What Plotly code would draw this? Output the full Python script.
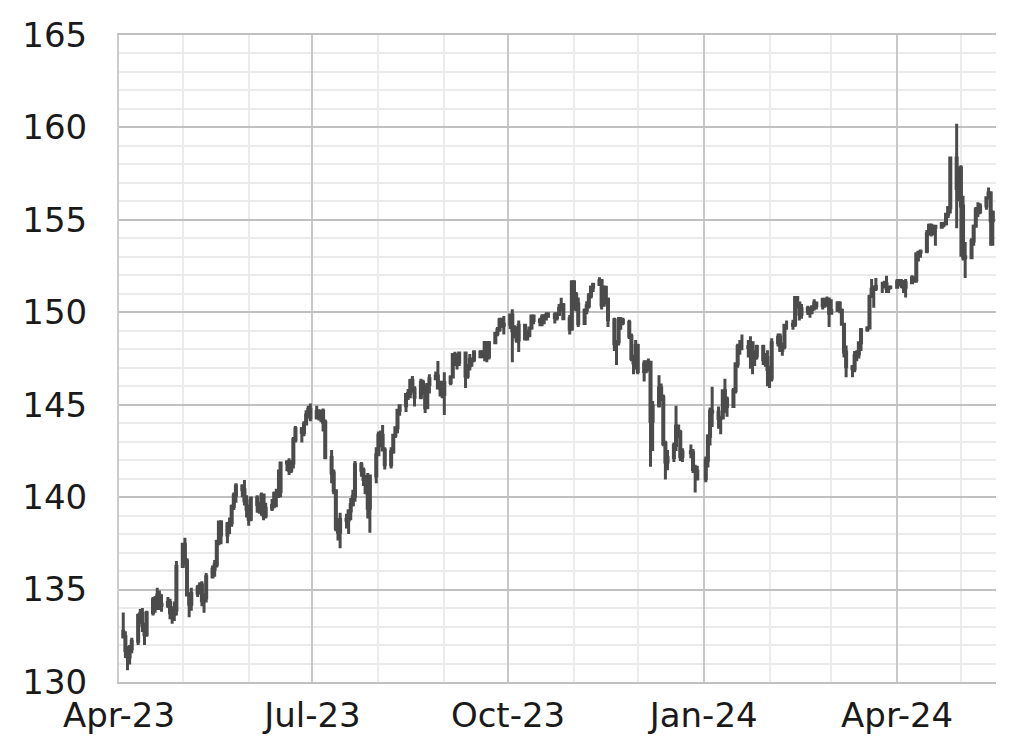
import plotly.graph_objects as go

dates = [
    "2023-04-03","2023-04-04","2023-04-05","2023-04-06","2023-04-07","2023-04-10","2023-04-11","2023-04-12","2023-04-13","2023-04-14","2023-04-17","2023-04-18","2023-04-19","2023-04-20","2023-04-21","2023-04-24","2023-04-25","2023-04-26","2023-04-27","2023-04-28",
    "2023-05-01","2023-05-02","2023-05-03","2023-05-04","2023-05-05","2023-05-08","2023-05-09","2023-05-10","2023-05-11","2023-05-12","2023-05-15","2023-05-16","2023-05-17","2023-05-18","2023-05-19","2023-05-22","2023-05-23","2023-05-24","2023-05-25","2023-05-26","2023-05-29","2023-05-30","2023-05-31",
    "2023-06-01","2023-06-02","2023-06-05","2023-06-06","2023-06-07","2023-06-08","2023-06-09","2023-06-12","2023-06-13","2023-06-14","2023-06-15","2023-06-16","2023-06-19","2023-06-20","2023-06-21","2023-06-22","2023-06-23","2023-06-26","2023-06-27","2023-06-28","2023-06-29","2023-06-30",
    "2023-07-03","2023-07-04","2023-07-05","2023-07-06","2023-07-07","2023-07-10","2023-07-11","2023-07-12","2023-07-13","2023-07-14","2023-07-17","2023-07-18","2023-07-19","2023-07-20","2023-07-21","2023-07-24","2023-07-25","2023-07-26","2023-07-27","2023-07-28","2023-07-31",
    "2023-08-01","2023-08-02","2023-08-03","2023-08-04","2023-08-07","2023-08-08","2023-08-09","2023-08-10","2023-08-11","2023-08-14","2023-08-15","2023-08-16","2023-08-17","2023-08-18","2023-08-21","2023-08-22","2023-08-23","2023-08-24","2023-08-25","2023-08-28","2023-08-29","2023-08-30","2023-08-31",
    "2023-09-01","2023-09-04","2023-09-05","2023-09-06","2023-09-07","2023-09-08","2023-09-11","2023-09-12","2023-09-13","2023-09-14","2023-09-15","2023-09-18","2023-09-19","2023-09-20","2023-09-21","2023-09-22","2023-09-25","2023-09-26","2023-09-27","2023-09-28","2023-09-29",
    "2023-10-02","2023-10-03","2023-10-04","2023-10-05","2023-10-06","2023-10-09","2023-10-10","2023-10-11","2023-10-12","2023-10-13","2023-10-16","2023-10-17","2023-10-18","2023-10-19","2023-10-20","2023-10-23","2023-10-24","2023-10-25","2023-10-26","2023-10-27","2023-10-30","2023-10-31",
    "2023-11-01","2023-11-02","2023-11-03","2023-11-06","2023-11-07","2023-11-08","2023-11-09","2023-11-10","2023-11-13","2023-11-14","2023-11-15","2023-11-16","2023-11-17","2023-11-20","2023-11-21","2023-11-22","2023-11-23","2023-11-24","2023-11-27","2023-11-28","2023-11-29","2023-11-30",
    "2023-12-01","2023-12-04","2023-12-05","2023-12-06","2023-12-07","2023-12-08","2023-12-11","2023-12-12","2023-12-13","2023-12-14","2023-12-15","2023-12-18","2023-12-19","2023-12-20","2023-12-21","2023-12-22","2023-12-26","2023-12-27","2023-12-28","2023-12-29",
    "2024-01-02","2024-01-03","2024-01-04","2024-01-05","2024-01-08","2024-01-09","2024-01-10","2024-01-11","2024-01-12","2024-01-15","2024-01-16","2024-01-17","2024-01-18","2024-01-19","2024-01-22","2024-01-23","2024-01-24","2024-01-25","2024-01-26","2024-01-29","2024-01-30","2024-01-31",
    "2024-02-01","2024-02-02","2024-02-05","2024-02-06","2024-02-07","2024-02-08","2024-02-09","2024-02-12","2024-02-13","2024-02-14","2024-02-15","2024-02-16","2024-02-19","2024-02-20","2024-02-21","2024-02-22","2024-02-23","2024-02-26","2024-02-27","2024-02-28","2024-02-29",
    "2024-03-01","2024-03-04","2024-03-05","2024-03-06","2024-03-07","2024-03-08","2024-03-11","2024-03-12","2024-03-13","2024-03-14","2024-03-15","2024-03-18","2024-03-19","2024-03-20","2024-03-21","2024-03-22","2024-03-25","2024-03-26","2024-03-27","2024-03-28","2024-03-29",
    "2024-04-01","2024-04-02","2024-04-03","2024-04-04","2024-04-05","2024-04-08","2024-04-09","2024-04-10","2024-04-11","2024-04-12","2024-04-15","2024-04-16","2024-04-17","2024-04-18","2024-04-19","2024-04-22","2024-04-23","2024-04-24","2024-04-25","2024-04-26","2024-04-29","2024-04-30",
    "2024-05-01","2024-05-02","2024-05-03","2024-05-06","2024-05-07","2024-05-08","2024-05-09","2024-05-10","2024-05-13","2024-05-14","2024-05-15","2024-05-16",
]

opens = [
    132.75,132.45,131.70,131.35,131.80,132.20,133.60,133.70,133.05,132.55,133.75,134.45,134.10,134.70,134.20,134.15,134.30,133.75,133.65,133.90,
    136.25,137.45,136.55,134.70,134.20,134.80,135.10,135.25,134.40,134.55,135.70,136.10,136.35,137.60,138.65,137.95,138.55,138.60,139.50,140.10,140.60,140.40,139.80,
    139.35,138.80,139.95,139.60,139.60,140.10,139.00,139.40,139.55,140.20,140.05,140.30,141.85,141.90,141.45,141.85,143.10,143.70,143.50,143.95,144.45,144.75,
    144.30,144.65,144.45,144.65,144.05,142.15,141.30,140.35,138.30,138.10,138.80,138.75,139.25,139.60,140.05,141.75,141.45,140.95,140.25,139.40,141.15,
    142.30,143.35,143.35,142.55,141.75,142.45,143.35,143.75,144.70,144.95,145.55,145.60,146.30,145.85,145.40,146.20,145.90,144.85,146.10,146.40,146.55,145.90,146.20,
    145.55,146.20,146.50,147.70,147.70,147.30,147.80,146.55,147.10,147.45,147.45,147.85,147.60,147.85,148.35,147.60,148.35,148.85,149.05,149.60,149.30,
    149.35,149.85,149.00,149.05,148.50,149.30,148.55,148.75,149.15,149.80,149.55,149.50,149.75,149.80,149.85,149.85,149.70,149.90,150.20,150.40,149.65,149.10,
    151.65,150.95,150.45,149.40,150.10,150.35,150.90,151.35,151.50,151.70,150.40,151.35,150.70,149.60,148.30,148.40,149.55,149.55,149.45,148.70,147.50,147.25,
    148.20,146.80,147.20,147.15,147.30,144.10,144.95,145.90,145.40,142.90,141.90,142.15,142.80,143.85,143.50,142.20,142.45,142.40,141.50,141.40,
    141.00,142.00,143.30,144.65,144.60,144.25,144.30,145.75,145.30,144.90,145.75,147.20,148.15,148.15,148.15,148.10,148.35,147.50,147.65,148.15,147.45,147.55,
    146.90,146.45,148.35,148.65,147.95,148.15,149.30,149.30,149.35,150.80,150.50,149.90,150.20,150.05,150.15,150.30,150.50,150.35,150.70,150.50,150.65,
    149.95,150.10,150.50,150.10,149.35,147.85,147.05,146.95,147.65,147.75,148.35,149.05,149.15,150.85,151.25,151.30,151.40,151.40,151.55,151.30,151.35,
    151.35,151.65,151.55,151.65,151.35,151.60,151.85,151.75,153.15,153.25,153.30,154.25,154.70,154.35,154.65,154.60,154.80,154.80,155.30,155.65,158.35,156.70,
    157.80,155.75,153.00,152.95,153.85,154.65,155.55,155.45,155.75,156.20,156.45,154.95,
]

highs = [
    133.76,132.75,131.95,132.00,132.40,133.70,133.95,134.00,133.20,133.85,134.60,134.65,135.10,134.95,134.75,134.60,134.50,134.10,134.35,136.55,
    137.50,137.80,136.70,134.85,135.10,135.25,135.40,135.45,134.80,135.90,136.30,136.60,137.70,138.70,138.75,138.65,138.90,139.60,140.25,140.75,140.70,140.93,140.10,
    139.60,140.00,140.10,139.75,140.25,140.20,139.70,139.90,140.30,140.45,141.50,141.90,142.00,142.10,142.00,143.25,143.85,143.80,144.10,144.70,144.95,145.07,
    144.95,144.75,144.70,144.80,144.20,142.55,141.50,140.40,138.85,139.15,139.10,139.35,139.95,140.40,141.95,141.90,141.60,141.20,141.30,141.20,142.70,
    143.55,143.60,143.90,142.70,142.70,143.40,143.80,144.75,145.00,145.60,145.85,146.40,146.55,146.00,146.40,146.35,146.10,146.10,146.65,146.80,147.37,146.30,146.30,
    146.75,146.60,147.80,147.87,147.75,147.85,147.85,147.20,147.75,147.55,147.95,147.95,147.95,148.45,148.45,148.45,148.95,149.20,149.70,149.70,149.80,
    149.90,150.16,149.30,149.25,149.55,149.35,149.05,149.20,149.85,149.85,149.70,149.90,149.90,150.00,150.00,150.00,150.00,150.45,150.78,150.50,149.85,151.70,
    151.70,151.10,150.80,150.20,150.60,151.05,151.45,151.60,151.90,151.80,151.45,151.40,150.80,149.70,148.50,149.75,149.75,149.70,149.60,148.85,147.70,148.50,
    148.30,147.40,147.40,147.50,147.35,145.20,146.60,146.15,145.55,143.05,142.55,142.95,144.95,143.90,143.65,142.65,142.85,142.60,141.75,141.70,
    142.20,143.40,144.85,145.97,144.90,144.40,145.80,146.40,145.45,145.90,147.30,148.30,148.50,148.80,148.50,148.70,148.40,147.95,148.25,148.25,147.80,147.95,
    147.10,148.60,148.85,148.85,148.35,149.35,149.55,149.60,150.88,150.85,150.55,150.45,150.35,150.30,150.35,150.70,150.55,150.75,150.70,150.85,150.80,
    150.70,150.60,150.60,150.20,149.40,148.20,147.15,147.90,147.95,148.40,149.15,149.25,150.95,151.80,151.45,151.85,151.65,151.70,151.97,151.45,151.45,
    151.80,151.80,151.80,151.75,151.80,152.00,151.95,153.25,153.30,153.40,154.45,154.80,154.80,154.70,154.70,154.85,154.90,155.35,155.75,158.40,160.20,157.80,
    157.95,156.30,153.80,154.00,154.75,155.70,155.95,155.90,156.25,156.75,156.55,155.50,
]

lows = [
    132.35,131.30,130.63,130.95,131.55,132.00,133.15,132.70,132.00,132.45,133.60,133.75,133.90,133.90,133.80,134.00,133.40,133.15,133.30,133.60,
    136.20,136.30,134.70,133.50,133.85,134.60,134.75,134.10,133.75,134.30,135.60,135.70,136.20,137.40,137.45,137.50,138.00,138.40,139.30,139.70,140.00,139.55,138.90,
    138.45,138.70,139.15,139.10,139.00,138.75,138.85,139.25,139.40,139.45,139.95,140.00,141.40,141.20,141.30,141.55,142.95,142.95,143.30,143.90,144.30,144.10,
    144.20,144.15,144.05,143.55,142.05,140.75,140.15,138.15,137.65,137.24,138.30,138.00,138.75,139.50,139.75,141.10,140.60,140.15,138.85,138.07,140.75,
    142.25,142.70,142.50,141.50,141.55,142.35,143.20,143.45,144.40,144.60,145.25,145.35,145.65,144.90,145.30,145.55,144.55,144.75,145.60,146.35,145.85,145.45,145.35,
    144.45,146.05,146.45,147.10,146.90,147.10,145.90,146.40,146.85,147.05,147.30,147.55,147.55,147.35,147.30,147.45,148.30,148.70,148.95,149.15,148.80,
    149.10,147.30,148.60,148.35,147.85,148.55,148.50,148.65,149.05,149.35,149.25,149.25,149.35,149.55,149.70,149.40,149.55,149.80,150.05,149.60,148.80,149.00,
    150.10,150.05,149.20,149.35,149.90,150.20,150.75,151.10,151.45,150.15,150.30,150.45,149.20,147.90,147.15,148.20,149.05,149.30,148.55,147.35,146.65,146.90,
    146.65,146.25,146.70,146.80,141.65,142.50,144.85,145.20,142.75,140.95,141.45,141.90,142.50,143.20,141.95,141.90,142.10,141.30,140.25,140.90,
    140.80,141.60,142.80,143.80,143.70,143.40,144.20,144.55,144.35,144.85,145.60,147.00,147.70,147.95,147.55,146.95,146.65,147.10,147.45,147.15,147.05,146.00,
    145.90,146.25,148.15,147.85,147.65,148.00,149.05,149.05,149.20,150.20,149.55,149.65,149.85,149.70,149.90,150.10,150.15,150.15,150.25,150.30,149.20,
    149.90,150.05,149.95,149.35,147.55,146.48,146.48,146.75,147.35,147.50,147.90,148.95,149.10,150.85,150.25,151.15,151.05,151.30,151.05,151.05,151.25,
    151.35,151.40,151.30,151.05,150.80,151.55,151.60,151.60,152.75,152.95,153.20,154.15,154.10,154.15,153.60,154.55,154.60,154.70,155.10,155.35,154.55,156.00,
    153.00,152.80,151.86,152.90,153.60,154.60,155.15,155.30,155.55,156.10,153.60,153.60,
]

closes = [
    132.45,131.70,131.35,131.80,132.20,133.60,133.70,133.05,132.55,133.75,134.45,134.10,134.70,134.20,134.15,134.30,133.75,133.65,133.90,136.25,
    137.45,136.55,134.70,134.20,134.80,135.10,135.25,134.40,134.55,135.70,136.10,136.35,137.60,138.65,137.95,138.55,138.60,139.50,140.10,140.60,140.40,139.80,139.35,
    138.80,139.95,139.60,139.60,140.10,139.00,139.40,139.55,140.20,140.05,140.30,141.85,141.90,141.45,141.85,143.10,143.70,143.50,143.95,144.45,144.75,144.30,
    144.65,144.45,144.65,144.05,142.15,141.30,140.35,138.30,138.10,138.80,138.75,139.25,139.60,140.05,141.75,141.45,140.95,140.25,139.40,141.15,142.30,
    143.35,143.35,142.55,141.75,142.45,143.35,143.75,144.70,144.95,145.55,145.60,146.30,145.85,145.40,146.20,145.90,144.85,146.10,146.40,146.55,145.90,146.20,145.55,
    146.20,146.50,147.70,147.70,147.30,147.80,146.55,147.10,147.45,147.45,147.85,147.60,147.85,148.35,147.60,148.35,148.85,149.05,149.60,149.30,149.35,
    149.85,149.00,149.05,148.50,149.30,148.55,148.75,149.15,149.80,149.55,149.50,149.75,149.80,149.85,149.85,149.70,149.90,150.20,150.40,149.65,149.10,151.65,
    150.95,150.45,149.40,150.10,150.35,150.90,151.35,151.50,151.70,150.40,151.35,150.70,149.60,148.30,148.40,149.55,149.55,149.45,148.70,147.50,147.25,148.20,
    146.80,147.20,147.15,147.30,144.10,144.95,145.90,145.40,142.90,141.90,142.15,142.80,143.85,143.50,142.20,142.45,142.40,141.50,141.40,141.00,
    142.00,143.30,144.65,144.60,144.25,144.30,145.75,145.30,144.90,145.75,147.20,148.15,148.15,148.15,148.10,148.35,147.50,147.65,148.15,147.45,147.55,146.90,
    146.45,148.35,148.65,147.95,148.15,149.30,149.30,149.35,150.80,150.50,149.90,150.20,150.05,150.15,150.30,150.50,150.35,150.70,150.50,150.65,149.95,
    150.10,150.50,150.10,149.35,147.85,147.05,146.95,147.65,147.75,148.35,149.05,149.15,150.85,151.25,151.30,151.40,151.40,151.55,151.30,151.35,151.35,
    151.65,151.55,151.65,151.35,151.60,151.85,151.75,153.15,153.25,153.30,154.25,154.70,154.35,154.65,154.60,154.80,154.80,155.30,155.65,158.35,156.70,157.80,
    155.75,153.00,152.95,153.85,154.65,155.55,155.45,155.75,156.20,156.45,154.95,155.40,
]

assert len(dates) == len(opens) == len(highs) == len(lows) == len(closes)

bar_color = "#4b4b4b"
font_family = "DejaVu Sans"

fig = go.Figure(
    go.Candlestick(
        x=dates, open=opens, high=highs, low=lows, close=closes,
        increasing=dict(line=dict(color=bar_color, width=3), fillcolor=bar_color),
        decreasing=dict(line=dict(color=bar_color, width=3), fillcolor=bar_color),
        whiskerwidth=0,
        showlegend=False,
        hoverinfo="skip",
    )
)

# page body has an 8px margin, so the figure is sized/offset to land the plot at the reference position
fig.update_layout(
    width=1014, height=735,
    margin=dict(l=111, r=26, t=27, b=61),
    paper_bgcolor="white", plot_bgcolor="white",
    font=dict(family=font_family, size=34, color="#1a1a1a"),
    showlegend=False,
)

fig.update_xaxes(
    type="date",
    range=["2023-04-01", "2024-05-17 12:00"],
    rangeslider=dict(visible=False),
    tick0="2023-04-01", dtick="M3", tickformat="%b-%y",
    showgrid=True, gridcolor="#c8c8c8", gridwidth=2,
    minor=dict(tick0="2023-04-01", dtick="M1", showgrid=True, gridcolor="#ebebeb", gridwidth=2),
    ticks="", zeroline=False,
    showline=True, mirror=True, linecolor="#c0c0c0", linewidth=2,
    ticklabelstandoff=2,
    automargin=False,
)

fig.update_yaxes(
    range=[130, 165], tick0=130, dtick=5,
    showgrid=True, gridcolor="#c0c0c0", gridwidth=2,
    minor=dict(dtick=1, showgrid=True, gridcolor="#ebebeb", gridwidth=2),
    ticks="", zeroline=False,
    showline=True, mirror=False, linecolor="#cccccc", linewidth=2,
    ticklabelstandoff=23,
    automargin=False,
)

fig.write_html("out.html")
